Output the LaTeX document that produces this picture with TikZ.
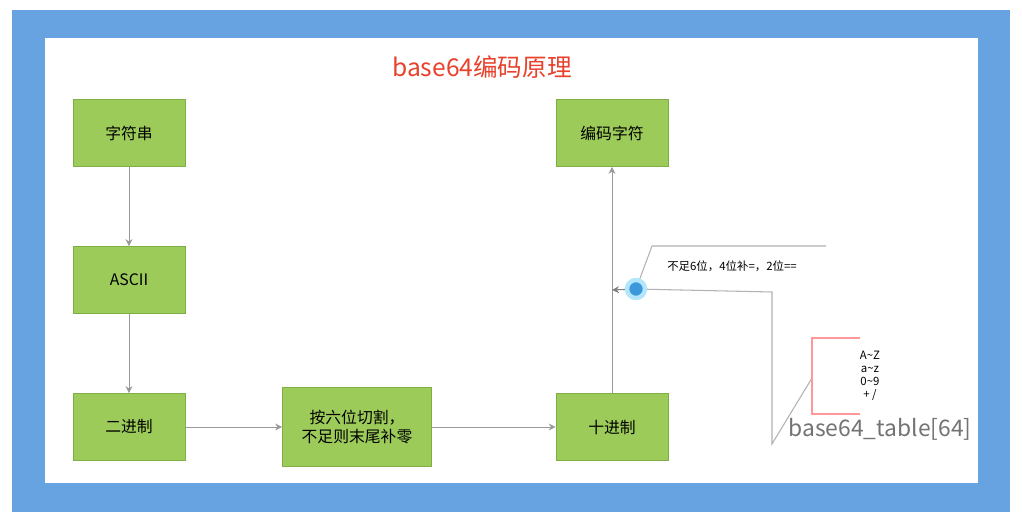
\documentclass[tikz,border=0pt]{standalone}
\usepackage{fontspec}
\setmainfont{Noto Sans CJK SC}
\usetikzlibrary{arrows.meta}
\definecolor{bgblue}{HTML}{66A3E0}
\definecolor{boxg}{HTML}{9CCB5A}
\definecolor{boxb}{HTML}{7FAE45}
\definecolor{ttl}{HTML}{E8412C}
\tikzset{x=0.02cm,y=-0.02cm,
 box/.style={draw=boxb,fill=boxg,minimum width=2.24cm,minimum height=1.34cm,font=\fontsize{9}{11}\selectfont,align=center,inner sep=0},
 conn/.style={draw=gray!80,line width=0.5pt,-{Stealth[length=4pt,width=4pt]}},
 ann/.style={draw=gray!60,line width=0.6pt}}
\begin{document}
\begin{tikzpicture}
\useasboundingbox (0,0) rectangle (1022,524);
\fill[white] (0,0) rectangle (1022,524);
\fill[bgblue] (12,10) rectangle (1010,512);
\fill[white] (45,38) rectangle (978,483);
\node[text=ttl,font=\fontsize{14}{16}\selectfont] (title) at (482,67) {base64编码原理};
\node[box] (str) at (129,133) {字符串};
\node[box] (asc) at (129,280) {ASCII};
\node[box] (bin) at (129,427) {二进制};
\node[box,minimum width=2.98cm,minimum height=1.58cm] (cut) at (357,427) {按六位切割，\\不足则末尾补零};
\node[box] (dec) at (612,427) {十进制};
\node[box] (enc) at (612,133) {编码字符};
\draw[conn] (str) -- (asc);
\draw[conn] (asc) -- (bin);
\draw[conn] (bin) -- (cut);
\draw[conn] (cut) -- (dec);
\draw[conn] (dec) -- (enc);
\coordinate (tip) at (612,290);
\node[circle,fill=cyan!70!blue!80,draw=cyan!30,line width=2.5pt,minimum size=0.36cm,inner sep=0] (dot) at (636,289) {};
\draw[gray,line width=0.6pt,-{Stealth[length=4pt,width=4pt]}] (dot) -- (tip);
\coordinate (a1) at (652,246); \coordinate (a2) at (826,246);
\draw[ann] (dot) -- (a1) -- (a2);
\node[font=\fontsize{6.5}{8}\selectfont] (note) at (732,266) {不足6位，4位补=，2位==};
\coordinate (b1) at (772,292); \coordinate (b2) at (772,444); \coordinate (b3) at (812,378);
\draw[ann] (dot) -- (b1) -- (b2) -- (b3);
\draw[draw=red!40,line width=0.6pt] (860,338) -- (812,338) -- (812,414) -- (860,414);
\node[font=\fontsize{6.5}{7.4}\selectfont,align=center] (rng) at (870,376) {A\textasciitilde Z\\a\textasciitilde z\\0\textasciitilde 9\\+ /};
\node[text=gray!90!black,font=\fontsize{13}{15}\selectfont] (tbl) at (880,429) {base64\_table[64]};
\end{tikzpicture}
\end{document}
